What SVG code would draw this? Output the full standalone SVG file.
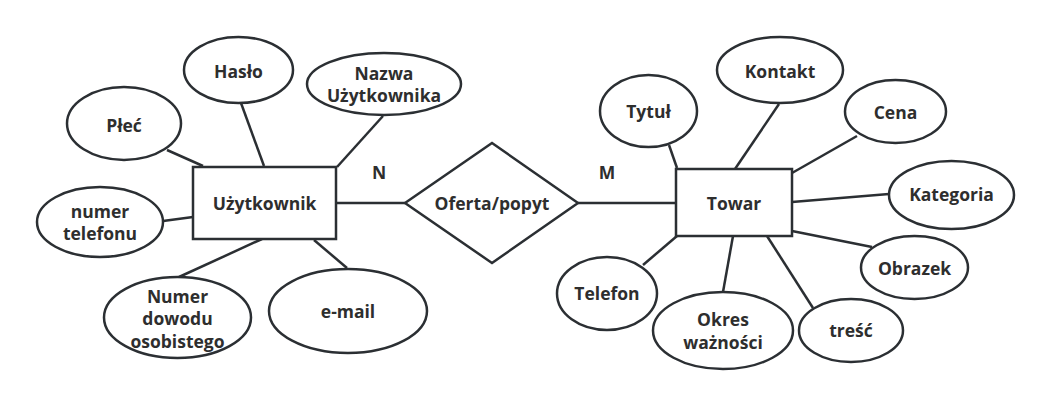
<svg xmlns="http://www.w3.org/2000/svg" width="1051" height="406" viewBox="0 0 1051 406">
<style>
.s{fill:#fff;stroke:#2b2f33;stroke-width:2.5}
.l{stroke:#2b2f33;stroke-width:2.5;fill:none}
text{font-family:"Open Sans","Noto Sans","Liberation Sans",sans-serif;font-weight:bold;font-size:17.5px;fill:#2e2e2e;text-anchor:middle;dominant-baseline:central}
</style>
<rect width="1051" height="406" fill="#fff"/>
<g id="connectors">
<line class="l" x1="167" y1="150" x2="203" y2="166"/>
<line class="l" x1="241" y1="103" x2="264" y2="166"/>
<line class="l" x1="383" y1="116" x2="337" y2="167"/>
<line class="l" x1="163" y1="221" x2="193" y2="217"/>
<line class="l" x1="179" y1="277" x2="262" y2="239"/>
<line class="l" x1="314" y1="240" x2="347" y2="268"/>
<line class="l" x1="337" y1="203" x2="405" y2="203"/>
<line class="l" x1="578" y1="203" x2="676" y2="203"/>
<line class="l" x1="669" y1="145" x2="677" y2="168"/>
<line class="l" x1="779" y1="104" x2="735" y2="169"/>
<line class="l" x1="857" y1="136" x2="792" y2="173"/>
<line class="l" x1="889" y1="194" x2="792" y2="202"/>
<line class="l" x1="872" y1="247" x2="792" y2="231"/>
<line class="l" x1="813" y1="308" x2="767" y2="236"/>
<line class="l" x1="723" y1="292" x2="733" y2="236"/>
<line class="l" x1="643" y1="265" x2="677" y2="236"/>
</g>
<g id="uzytkownik"><rect class="s" x="193" y="167" width="143" height="72"/><text x="264.5" y="203">Użytkownik</text></g>
<g id="haslo"><ellipse class="s" cx="238.5" cy="70" rx="54.5" ry="33"/><text x="238.5" y="71">Hasło</text></g>
<g id="nazwa"><ellipse class="s" cx="384" cy="84" rx="77" ry="31"/><text x="384" y="73">Nazwa</text><text x="384" y="95">Użytkownika</text></g>
<g id="plec"><ellipse class="s" cx="124" cy="123.5" rx="57" ry="36.5"/><text x="124" y="125">Płeć</text></g>
<g id="telefon-num"><ellipse class="s" cx="100" cy="222" rx="63" ry="35"/><text x="100" y="210.5">numer</text><text x="100" y="233">telefonu</text></g>
<g id="dowod"><ellipse class="s" cx="177.5" cy="317.5" rx="73.5" ry="40.5"/><text x="177.5" y="295.5">Numer</text><text x="177.5" y="318">dowodu</text><text x="177.5" y="340.5">osobistego</text></g>
<g id="email"><ellipse class="s" cx="348" cy="311" rx="79" ry="42"/><text x="348" y="311">e-mail</text></g>
<g id="oferta"><polygon class="s" points="405,203 492,143 578,203 492,263"/><text x="492" y="203">Oferta/popyt</text></g>
<text x="379" y="172">N</text>
<text x="607" y="172">M</text>
<g id="towar"><rect class="s" x="676" y="169" width="116" height="67"/><text x="734" y="203">Towar</text></g>
<g id="tytul"><ellipse class="s" cx="648.5" cy="111" rx="48.5" ry="36"/><text x="648.5" y="111">Tytuł</text></g>
<g id="kontakt"><ellipse class="s" cx="780" cy="70" rx="63" ry="33"/><text x="780" y="71">Kontakt</text></g>
<g id="cena"><ellipse class="s" cx="895.5" cy="111.5" rx="50.5" ry="31.5"/><text x="895.5" y="112">Cena</text></g>
<g id="kategoria"><ellipse class="s" cx="951.5" cy="195" rx="62.5" ry="34"/><text x="951.5" y="194">Kategoria</text></g>
<g id="obrazek"><ellipse class="s" cx="914.5" cy="267.5" rx="53.5" ry="31.5"/><text x="914.5" y="268">Obrazek</text></g>
<g id="tresc"><ellipse class="s" cx="851" cy="330.5" rx="52" ry="31.5"/><text x="851" y="330">treść</text></g>
<g id="okres"><ellipse class="s" cx="723" cy="330.5" rx="70" ry="38.5"/><text x="723" y="319">Okres</text><text x="723" y="341.5">ważności</text></g>
<g id="telefon"><ellipse class="s" cx="607" cy="293.5" rx="50" ry="36.5"/><text x="607" y="293">Telefon</text></g>
</svg>
